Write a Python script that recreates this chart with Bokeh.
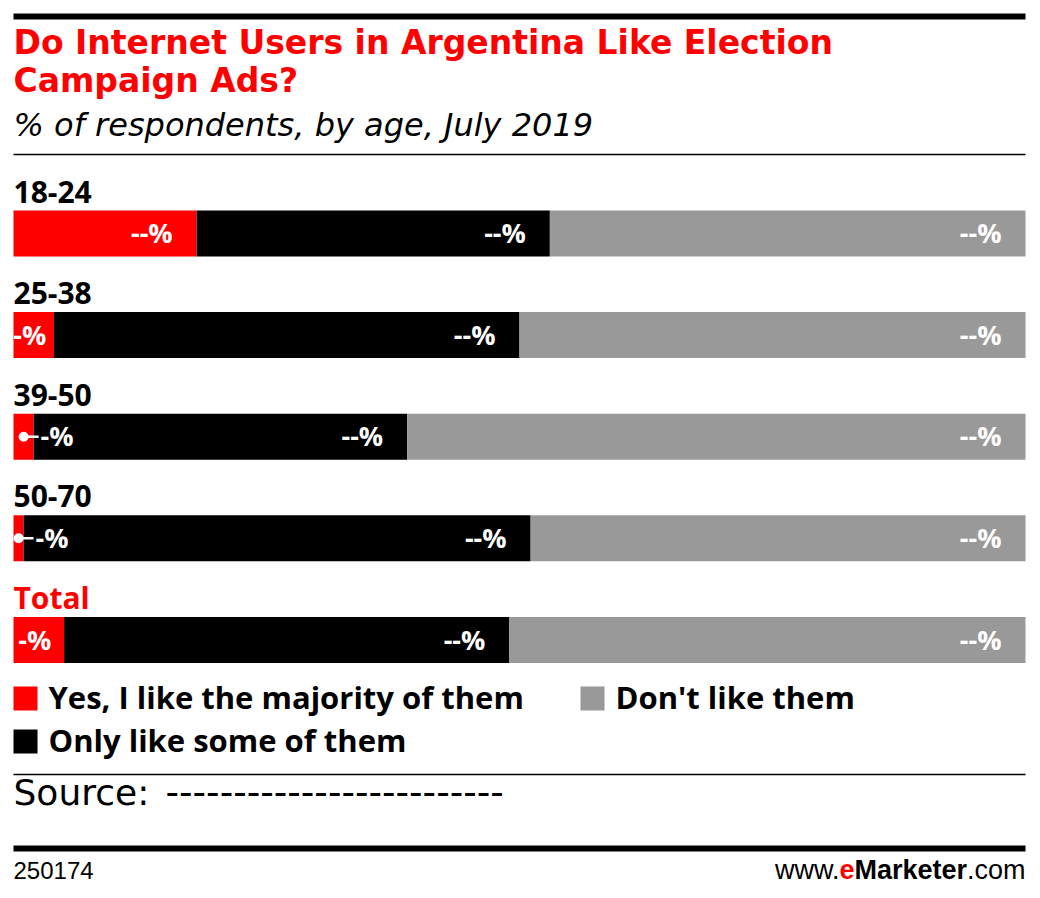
from bokeh.plotting import figure
from bokeh.models import Range1d
from bokeh.core.properties import value
from bokeh.embed import file_html
from bokeh.resources import INLINE

# ---- data ----
categories = ["18-24", "25-38", "39-50", "50-70", "Total"]
yes_majority = [18.1, 4.0, 2.0, 1.0, 5.0]
only_some = [34.9, 46.0, 36.9, 50.1, 44.0]
dont_like = [47.0, 50.0, 61.1, 48.9, 51.0]
yes_labels = ["--%", "-%", "-%", "-%", "-%"]
some_labels = ["--%", "--%", "--%", "--%", "--%"]
dont_labels = ["--%", "--%", "--%", "--%", "--%"]
series_names = ["Yes, I like the majority of them", "Only like some of them", "Don't like them"]
series_colors = ["#ff0000", "#000000", "#999999"]
title_lines = ["Do Internet Users in Argentina Like Election", "Campaign Ads?"]
subtitle = "% of respondents, by age, July 2019"
source_label = "Source:"
source_value = "-" * 25
chart_id = "250174"

# ---- layout helpers (reference pixel space) ----
X0, X1 = 13.0, 1025.0
def pct(xpx):
    return (xpx - X0) * 100.0 / (X1 - X0)

K = 0.4  # baseline correction (fraction of font size)
def by(y, fs):
    return y - K * fs

W, H = 1036, 894
p = figure(width=W, height=H, output_backend="svg", toolbar_location=None,
           x_range=Range1d(pct(0), pct(W)), y_range=Range1d(H, 0),
           min_border=0, outline_line_color=None)
p.axis.visible = False
p.grid.visible = False
p.background_fill_color = "white"

OS = value("Open Sans")
DJ = value("DejaVu Sans")
LS = value("Liberation Sans")

# rules
p.segment(x0=[0], x1=[100], y0=[16], y1=[16], line_width=6, line_color="black")
p.segment(x0=[0], x1=[100], y0=[154], y1=[154], line_width=1.5, line_color="black")
p.segment(x0=[0], x1=[100], y0=[774], y1=[774], line_width=1.5, line_color="black")
p.segment(x0=[0], x1=[100], y0=[848], y1=[848], line_width=6, line_color="black")

# title
p.text(x=[0, 0], y=[by(55, 33), by(93, 33)], text=title_lines, text_color="#ff0000", text_font=DJ,
       text_font_style="bold", text_font_size="33px", text_baseline="alphabetic")
p.text(x=[0], y=[by(137, 32)], text=[subtitle], text_color="black", text_font=DJ,
       text_font_style="italic", text_font_size="32px", text_baseline="alphabetic")

# bars
n = len(categories)
centers = [233 + i * 101.6 for i in range(n)]
rights1 = yes_majority
rights2 = [a + b for a, b in zip(yes_majority, only_some)]
rights3 = [a + b for a, b in zip(rights2, dont_like)]
for l, r, c in [([0.0] * n, rights1, series_colors[0]), (rights1, rights2, series_colors[1]),
                (rights2, rights3, series_colors[2])]:
    p.hbar(y=centers, left=l, right=r, height=46, fill_color=c, line_color=None)

# category labels
cat_colors = ["black"] * (n - 1) + ["#ff0000"]
p.text(x=[0] * n, y=[by(c - 30, 30) for c in centers], text=categories, text_color=cat_colors,
       text_font=OS, text_font_style="bold", text_font_size="30px", text_baseline="alphabetic")

# value labels
LFS = 27
lab_kw = dict(text_color="white", text_font=OS, text_font_style="bold",
              text_font_size=f"{LFS}px", text_baseline="alphabetic")
ybase = [by(c + 10, LFS) for c in centers]
p.text(x=rights2, y=ybase, text=some_labels, text_align="right", x_offset=-24, **lab_kw)
p.text(x=rights3, y=ybase, text=dont_labels, text_align="right", x_offset=-24, **lab_kw)
big = [i for i in range(n) if yes_majority[i] >= 10]
mid = [i for i in range(n) if 3 <= yes_majority[i] < 10]
tiny = [i for i in range(n) if yes_majority[i] < 3]
p.text(x=[rights1[i] for i in big], y=[ybase[i] for i in big], text=[yes_labels[i] for i in big],
       text_align="right", x_offset=-24, **lab_kw)
p.text(x=[rights1[i] / 2 for i in mid], y=[ybase[i] for i in mid], text=[yes_labels[i] for i in mid],
       text_align="center", x_offset=-4, **lab_kw)
tx = [rights1[i] / 2 for i in tiny]
ty = [centers[i] for i in tiny]
p.segment(x0=tx, x1=[t + pct(X0 + 15) for t in tx], y0=ty, y1=ty, line_color="white", line_width=2.5)
p.scatter(x=tx, y=ty, size=10, fill_color="white", line_color=None)
p.text(x=tx, y=[ybase[i] for i in tiny], text=[yes_labels[i] for i in tiny],
       text_align="left", x_offset=17, **lab_kw)

# legend
leg_px = [13, 13, 580]
leg_y = [698, 741, 698]
p.rect(x=[pct(x + 12) for x in leg_px], y=leg_y, width=pct(X0 + 24), height=24,
       fill_color=series_colors, line_color=None)
p.text(x=[pct(x + 35) for x in leg_px], y=[by(yy + 11, 31) for yy in leg_y], text=series_names,
       text_color="black", text_font=OS, text_font_style="bold", text_font_size="31px",
       text_baseline="alphabetic")

# source
p.text(x=[0], y=[by(806, 36)], text=[source_label], text_color="black", text_font=DJ,
       text_font_size="36px", text_baseline="alphabetic")
p.text(x=[pct(165)], y=[by(806, 37.5)], text=[source_value], text_color="black", text_font=DJ,
       text_font_size="37.5px", text_baseline="alphabetic")

# footer
FFS = 27
fy = [by(880, FFS)]
p.text(x=[0], y=[by(880, 24)], text=[chart_id], text_color="black", text_font=LS,
       text_font_size="24px", text_baseline="alphabetic")
xr = [100]
p.text(x=xr, y=fy, text=[".com"], text_color="black", text_font=LS,
       text_font_size=f"{FFS}px", text_baseline="alphabetic", text_align="right")
p.text(x=xr, y=fy, text=["Marketer"], text_color="black", text_font=LS, text_font_style="bold",
       text_font_size=f"{FFS}px", text_baseline="alphabetic", text_align="right", x_offset=-58.5)
p.text(x=xr, y=fy, text=["e"], text_color="#ff0000", text_font=LS, text_font_style="bold",
       text_font_size=f"{FFS}px", text_baseline="alphabetic", text_align="right", x_offset=-171)
p.text(x=xr, y=fy, text=["www."], text_color="black", text_font=LS,
       text_font_size=f"{FFS}px", text_baseline="alphabetic", text_align="right", x_offset=-186)

open("out.html", "w").write(file_html(p, INLINE))
